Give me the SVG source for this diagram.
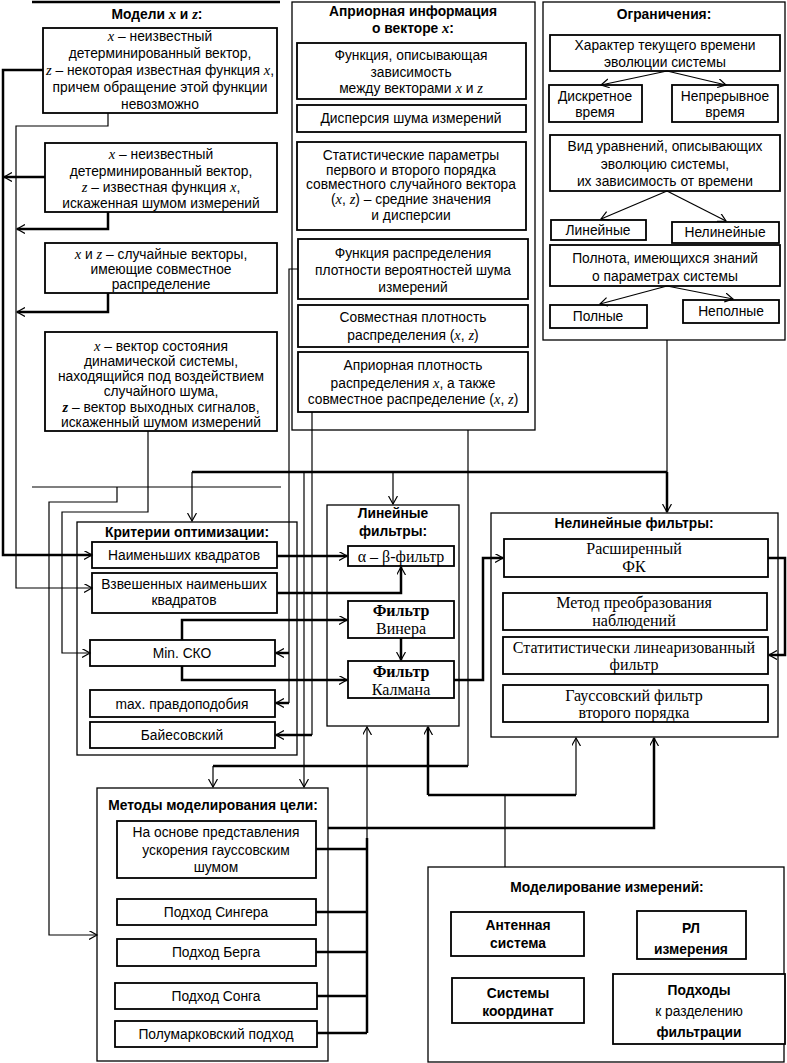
<svg xmlns="http://www.w3.org/2000/svg" width="787" height="1063" viewBox="0 0 787 1063">
<defs>
<marker id="ar" markerUnits="userSpaceOnUse" markerWidth="10" markerHeight="10" refX="8" refY="4.5" orient="auto">
<path d="M0,0 L8,4.5 L0,9" fill="none" stroke="#000" stroke-width="1.2"/>
</marker>
<style>
.t{font-family:"Liberation Sans",Arial,sans-serif;font-size:13.8px;text-anchor:middle;fill:#000}
.b{font-weight:bold}
.s{font-family:"Liberation Serif","Times New Roman",serif;font-size:16px;text-anchor:middle;fill:#000}
.m{font-family:"Liberation Serif","Times New Roman",serif;font-style:italic;font-size:14.5px}
.box{fill:#fff;stroke:#000;stroke-width:1.8}
.sec{fill:none;stroke:#000;stroke-width:1.3}
.th{fill:none;stroke:#000;stroke-width:2.5}
.tn{fill:none;stroke:#000;stroke-width:1.2}
.a{marker-end:url(#ar)}
</style>
</defs>
<rect width="787" height="1063" fill="#fff"/>

<!-- Section: Модели -->
<g id="models">
<line x1="32" y1="2" x2="280" y2="2" class="th"/>
<line x1="32" y1="487" x2="281" y2="487" class="tn"/>
<text class="t b" x="157" y="19">Модели <tspan class="m">x</tspan> и <tspan class="m">z</tspan>:</text>
</g>
<g id="m1">
<rect class="box" x="43" y="28" width="234" height="85"/>
<text class="t" x="160" y="41"><tspan class="m">x</tspan> – неизвестный</text>
<text class="t" x="160" y="58">детерминированный вектор,</text>
<text class="t" x="160" y="75"><tspan class="m">z</tspan> – некоторая известная функция <tspan class="m">x</tspan>,</text>
<text class="t" x="160" y="92">причем обращение этой функции</text>
<text class="t" x="160" y="109">невозможно</text>
</g>
<g id="m2">
<rect class="box" x="45" y="143" width="232" height="69"/>
<text class="t" x="161" y="159"><tspan class="m">x</tspan> – неизвестный</text>
<text class="t" x="161" y="176">детерминированный вектор,</text>
<text class="t" x="161" y="192"><tspan class="m">z</tspan> – известная функция <tspan class="m">x</tspan>,</text>
<text class="t" x="161" y="208">искаженная шумом измерений</text>
</g>
<g id="m3">
<rect class="box" x="45" y="243" width="232" height="50"/>
<text class="t" x="161" y="259"><tspan class="m">x</tspan> и <tspan class="m">z</tspan> – случайные векторы,</text>
<text class="t" x="161" y="274">имеющие совместное</text>
<text class="t" x="161" y="289">распределение</text>
</g>
<g id="m4">
<rect class="box" x="45" y="332" width="232" height="99"/>
<text class="t" x="161" y="351"><tspan class="m">x</tspan> – вектор состояния</text>
<text class="t" x="161" y="366">динамической системы,</text>
<text class="t" x="161" y="381">находящийся под воздействием</text>
<text class="t" x="161" y="396">случайного шума,</text>
<text class="t" x="161" y="412"><tspan class="m" font-weight="bold">z</tspan> – вектор выходных сигналов,</text>
<text class="t" x="161" y="427">искаженный шумом измерений</text>
</g>

<!-- Section: Априорная информация -->
<g id="apriori">
<rect class="sec" x="292" y="2" width="243" height="428"/>
<text class="t b" x="413" y="16">Априорная информация</text>
<text class="t b" x="413" y="33">о векторе <tspan class="m">x</tspan>:</text>
</g>
<g id="a1">
<rect class="box" x="297" y="43" width="229" height="56"/>
<text class="t" x="411" y="60">Функция, описывающая</text>
<text class="t" x="411" y="77">зависимость</text>
<text class="t" x="411" y="93">между векторами <tspan class="m">x</tspan> и <tspan class="m">z</tspan></text>
</g>
<g id="a2">
<rect class="box" x="297" y="105" width="229" height="27"/>
<text class="t" x="411" y="123">Дисперсия шума измерений</text>
</g>
<g id="a3">
<rect class="box" x="297" y="142" width="229" height="88"/>
<text class="t" x="411" y="160">Статистические параметры</text>
<text class="t" x="411" y="175">первого и второго порядка</text>
<text class="t" x="411" y="189">совместного случайного вектора</text>
<text class="t" x="411" y="204">(<tspan class="m">x</tspan>,  <tspan class="m">z</tspan>) – средние значения</text>
<text class="t" x="411" y="220">и дисперсии</text>
</g>
<g id="a4">
<rect class="box" x="298" y="239" width="230" height="60"/>
<text class="t" x="413" y="258">Функция распределения</text>
<text class="t" x="413" y="275">плотности вероятностей шума</text>
<text class="t" x="413" y="292">измерений</text>
</g>
<g id="a5">
<rect class="box" x="298" y="305" width="230" height="42"/>
<text class="t" x="413" y="322">Совместная плотность</text>
<text class="t" x="413" y="340">распределения (<tspan class="m">x</tspan>, <tspan class="m">z</tspan>)</text>
</g>
<g id="a6">
<rect class="box" x="298" y="352" width="230" height="60"/>
<text class="t" x="413" y="370">Априорная плотность</text>
<text class="t" x="413" y="388">распределения <tspan class="m">x</tspan>, а также</text>
<text class="t" x="413" y="404">совместное распределение (<tspan class="m">x</tspan>, <tspan class="m">z</tspan>)</text>
</g>

<!-- Section: Ограничения -->
<g id="limits">
<rect class="sec" x="543" y="2" width="242" height="338"/>
<text class="t b" x="664" y="19">Ограничения:</text>
</g>
<g id="o1">
<rect class="box" x="550" y="35" width="230" height="36"/>
<text class="t" x="665" y="50">Характер текущего времени</text>
<text class="t" x="665" y="67">эволюции системы</text>
</g>
<g id="o1a">
<rect class="box" x="549" y="85" width="93" height="37"/>
<text class="t" x="595" y="101">Дискретное</text>
<text class="t" x="595" y="117">время</text>
</g>
<g id="o1b">
<rect class="box" x="672" y="85" width="106" height="37"/>
<text class="t" x="725" y="101">Непрерывное</text>
<text class="t" x="725" y="117">время</text>
</g>
<g id="o2">
<rect class="box" x="550" y="135" width="230" height="56"/>
<text class="t" x="665" y="151">Вид уравнений, описывающих</text>
<text class="t" x="665" y="169">эволюцию системы,</text>
<text class="t" x="665" y="186">их зависимость от времени</text>
</g>
<g id="o2a">
<rect class="box" x="551" y="220" width="95" height="20"/>
<text class="t" x="598" y="235">Линейные</text>
</g>
<g id="o2b">
<rect class="box" x="672" y="222" width="107" height="21"/>
<text class="t" x="725" y="237">Нелинейные</text>
</g>
<g id="o3">
<rect class="box" x="550" y="245" width="230" height="41"/>
<text class="t" x="665" y="263">Полнота, имеющихся знаний</text>
<text class="t" x="665" y="281">о параметрах системы</text>
</g>
<g id="o3a">
<rect class="box" x="550" y="305" width="97" height="23"/>
<text class="t" x="598" y="321">Полные</text>
</g>
<g id="o3b">
<rect class="box" x="683" y="300" width="96" height="23"/>
<text class="t" x="731" y="316">Неполные</text>
</g>

<!-- Section: Критерии оптимизации -->
<g id="criteria">
<rect class="sec" x="77" y="522" width="220" height="233"/>
<text class="t b" x="187" y="537">Критерии оптимизации:</text>
</g>
<g id="c1">
<rect class="box" x="92" y="542" width="185" height="26"/>
<text class="t" x="184" y="560">Наименьших квадратов</text>
</g>
<g id="c2">
<rect class="box" x="92" y="573" width="185" height="40"/>
<text class="t" x="184" y="589">Взвешенных наименьших</text>
<text class="t" x="184" y="605">квадратов</text>
</g>
<g id="c3">
<rect class="box" x="90" y="640" width="185" height="26"/>
<text class="t" x="182" y="658">Min. СКО</text>
</g>
<g id="c4">
<rect class="box" x="90" y="690" width="185" height="27"/>
<text class="t" x="182" y="709">max. правдоподобия</text>
</g>
<g id="c5">
<rect class="box" x="90" y="722" width="185" height="26"/>
<text class="t" x="182" y="740">Байесовский</text>
</g>

<!-- Section: Линейные фильтры -->
<g id="linear">
<rect class="sec" x="327" y="505" width="132" height="221"/>
<text class="t b" x="393" y="518">Линейные</text>
<text class="t b" x="393" y="536">фильтры:</text>
</g>
<g id="l1">
<rect class="box" x="348" y="546" width="106" height="20"/>
<text class="s" x="401" y="562">α – β-фильтр</text>
</g>
<g id="l2">
<rect class="box" x="348" y="601" width="106" height="37"/>
<text class="s b" x="401" y="616">Фильтр</text>
<text class="s" x="401" y="634">Винера</text>
</g>
<g id="l3">
<rect class="box" x="348" y="661" width="106" height="37"/>
<text class="s b" x="401" y="677">Фильтр</text>
<text class="s" x="401" y="695">Калмана</text>
</g>

<!-- Section: Нелинейные фильтры -->
<g id="nonlinear">
<rect class="sec" x="491" y="513" width="287" height="224"/>
<text class="t b" x="634" y="528">Нелинейные фильтры:</text>
</g>
<g id="n1">
<rect class="box" x="504" y="539" width="264" height="38"/>
<text class="s" x="634" y="554">Расширенный</text>
<text class="s" x="634" y="572">ФК</text>
</g>
<g id="n2">
<rect class="box" x="503" y="593" width="264" height="37"/>
<text class="s" x="634" y="608">Метод преобразования</text>
<text class="s" x="634" y="626">наблюдений</text>
</g>
<g id="n3">
<rect class="box" x="503" y="637" width="265" height="37"/>
<text class="s" x="634" y="653">Статитистически линеаризованный</text>
<text class="s" x="634" y="670">фильтр</text>
</g>
<g id="n4">
<rect class="box" x="503" y="685" width="265" height="37"/>
<text class="s" x="634" y="701">Гауссовский фильтр</text>
<text class="s" x="634" y="718">второго порядка</text>
</g>

<!-- Section: Методы моделирования цели -->
<g id="target">
<rect class="sec" x="97" y="788" width="231" height="273"/>
<text class="t b" x="213" y="810" font-size="14">Методы моделирования цели:</text>
</g>
<g id="t1">
<rect class="box" x="117" y="821" width="199" height="57"/>
<text class="t" x="216" y="837">На основе представления</text>
<text class="t" x="216" y="855">ускорения гауссовским</text>
<text class="t" x="216" y="872">шумом</text>
</g>
<g id="t2">
<rect class="box" x="117" y="899" width="199" height="26"/>
<text class="t" x="216" y="917">Подход Сингера</text>
</g>
<g id="t3">
<rect class="box" x="117" y="939" width="199" height="27"/>
<text class="t" x="216" y="957">Подход Берга</text>
</g>
<g id="t4">
<rect class="box" x="115" y="983" width="202" height="26"/>
<text class="t" x="216" y="1001">Подход Сонга</text>
</g>
<g id="t5">
<rect class="box" x="115" y="1021" width="202" height="26"/>
<text class="t" x="216" y="1039">Полумарковский подход</text>
</g>

<!-- Section: Моделирование измерений -->
<g id="measure">
<rect class="sec" x="428" y="867" width="356" height="195"/>
<text class="t b" x="607" y="892" font-size="14">Моделирование измерений:</text>
</g>
<g id="ms1">
<rect class="box" x="451" y="912" width="133" height="44"/>
<text class="t b" x="518" y="930">Антенная</text>
<text class="t b" x="518" y="948">система</text>
</g>
<g id="ms2">
<rect class="box" x="637" y="911" width="109" height="48"/>
<text class="t b" x="691" y="933">РЛ</text>
<text class="t b" x="691" y="954">измерения</text>
</g>
<g id="ms3">
<rect class="box" x="452" y="978" width="132" height="45"/>
<text class="t b" x="518" y="998">Системы</text>
<text class="t b" x="518" y="1016">координат</text>
</g>
<g id="ms4">
<rect class="box" x="613" y="974" width="172" height="70"/>
<text class="t b" x="699" y="995">Подходы</text>
<text class="t" x="699" y="1016">к разделению</text>
<text class="t b" x="699" y="1037">фильтрации</text>
</g>

<!-- Connectors -->
<g id="connectors">
<!-- Ограничения internal -->
<line class="tn a" x1="667" y1="71" x2="601" y2="85"/>
<line class="tn a" x1="667" y1="71" x2="726" y2="85"/>
<line class="tn a" x1="667" y1="191" x2="601" y2="219"/>
<line class="tn a" x1="667" y1="191" x2="726" y2="221"/>
<line class="tn a" x1="667" y1="286" x2="600" y2="304"/>
<line class="tn a" x1="667" y1="286" x2="733" y2="299"/>

<!-- Модели -> Критерии -->
<polyline class="th a" points="43,70 3,70 3,555 92,555"/>
<polyline class="tn a" points="108,113 108,126 16,126 16,588 92,588"/>
<line class="th a" x1="45" y1="177" x2="4" y2="177"/>
<polyline class="th a" points="108,212 108,229 17,229"/>
<polyline class="th a" points="108,293 108,312 17,312"/>
<polyline class="tn a" points="148,431 148,512 62,512 62,653 90,653"/>
<!-- Модели -> Методы моделирования цели -->
<polyline class="tn a" points="117,487 117,502 49,502 49,935 97,935"/>

<!-- Ограничения bus -->
<line class="tn" x1="667" y1="340" x2="667" y2="472"/>
<line class="th" x1="192" y1="472" x2="667" y2="472"/>
<line class="th a" x1="667" y1="472" x2="667" y2="512"/>
<line class="tn a" x1="192" y1="472" x2="192" y2="521"/>
<line class="tn a" x1="393" y1="472" x2="393" y2="504"/>
<line class="tn a" x1="304" y1="472" x2="304" y2="787"/>

<!-- Априорная -> Критерии -->
<polyline class="tn" points="298,269 289,269 289,703"/>
<line class="th a" x1="289" y1="653" x2="276" y2="653"/>
<line class="th a" x1="289" y1="703" x2="276" y2="703"/>
<polyline class="tn" points="312,412 312,735"/>
<line class="th a" x1="312" y1="735" x2="276" y2="735"/>
<!-- Априорная -> Методы -->
<line class="tn" x1="468" y1="430" x2="468" y2="766"/>
<line class="th" x1="468" y1="766" x2="213" y2="766"/>
<line class="tn a" x1="213" y1="766" x2="213" y2="787"/>

<!-- Критерии -> Линейные фильтры -->
<line class="th a" x1="277" y1="556" x2="347" y2="556"/>
<polyline class="th a" points="277,593 401,593 401,567"/>
<polyline class="th a" points="182,640 182,620 347,620"/>
<polyline class="th a" points="182,666 182,680 347,680"/>
<line class="th a" x1="401" y1="638" x2="401" y2="660"/>

<!-- Линейные -> Нелинейные -->
<polyline class="th a" points="454,680 483,680 483,558 503,558"/>
<polyline class="th a" points="768,558 785,558 785,655 769,655"/>

<!-- Моделирование измерений -> фильтры -->
<line class="tn" x1="505" y1="867" x2="505" y2="795"/>
<line class="th" x1="428" y1="795" x2="576" y2="795"/>
<line class="th a" x1="428" y1="795" x2="428" y2="727"/>
<line class="tn a" x1="576" y1="795" x2="576" y2="738"/>

<!-- Методы -> Нелинейные -->
<polyline class="th a" points="328,828 654,828 654,738"/>

<!-- Методы подпункты -> Линейные -->
<line class="tn a" x1="367" y1="838" x2="367" y2="727"/>
<line class="th" x1="367" y1="838" x2="367" y2="1033"/>
<line class="th" x1="316" y1="849" x2="367" y2="849"/>
<line class="th" x1="316" y1="912" x2="367" y2="912"/>
<line class="th" x1="316" y1="952" x2="367" y2="952"/>
<line class="th" x1="317" y1="996" x2="367" y2="996"/>
<line class="th" x1="317" y1="1033" x2="367" y2="1033"/>
</g>
</svg>
